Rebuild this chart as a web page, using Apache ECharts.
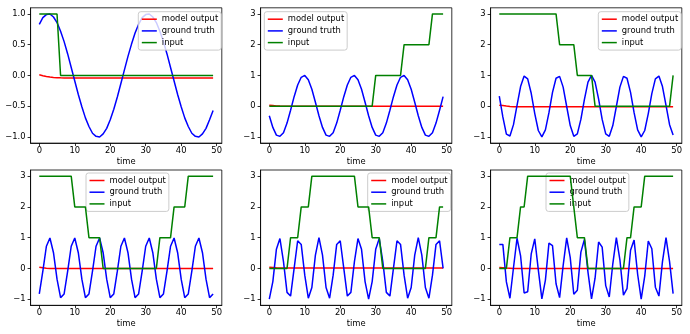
<!DOCTYPE html>
<html>
<head>
<meta charset="utf-8">
<script src="https://cdn.jsdelivr.net/npm/echarts@6/dist/echarts.min.js"></script>
<style>
html, body { margin: 0; padding: 0; background: #ffffff; }
#chart { width: 690px; height: 334px; }
</style>
</head>
<body>
<div id="chart"></div>
<script>
// Time steps shared by every panel
const steps = [0,1,2,3,4,5,6,7,8,9,10,11,12,13,14,15,16,17,18,19,20,21,22,23,24,25,26,27,28,29,30,31,32,33,34,35,36,37,38,39,40,41,42,43,44,45,46,47,48,49];

const seriesNames = ['model output', 'ground truth', 'input'];

// Panel 1
const output1 = [0.01,-0.005,-0.018,-0.027,-0.033,-0.037,-0.039,-0.04,-0.04,-0.04,-0.04,-0.04,-0.04,-0.04,-0.04,-0.04,-0.04,-0.04,-0.04,-0.04,-0.04,-0.04,-0.04,-0.04,-0.04,-0.04,-0.04,-0.04,-0.04,-0.04,-0.04,-0.04,-0.04,-0.04,-0.04,-0.04,-0.04,-0.04,-0.04,-0.04,-0.04,-0.04,-0.04,-0.04,-0.04,-0.04,-0.04,-0.04,-0.04,-0.04];
const truth1 = [0.83,0.94,0.99,1.00,0.95,0.86,0.72,0.55,0.35,0.13,-0.09,-0.31,-0.51,-0.69,-0.83,-0.94,-0.99,-1.00,-0.95,-0.86,-0.72,-0.55,-0.35,-0.13,0.09,0.31,0.51,0.69,0.83,0.94,0.99,1.00,0.95,0.86,0.72,0.55,0.35,0.13,-0.09,-0.31,-0.51,-0.69,-0.83,-0.94,-0.99,-1.00,-0.95,-0.86,-0.72,-0.57];
const input1 = [1,1,1,1,1,1,0,0,0,0,0,0,0,0,0,0,0,0,0,0,0,0,0,0,0,0,0,0,0,0,0,0,0,0,0,0,0,0,0,0,0,0,0,0,0,0,0,0,0,0];

// Panel 2
const output2 = [0.03,0.02,0.01,0.004,0,0,0,0,0,0,0,0,0,0,0,0,0,0,0,0,0,0,0,0,0,0,0,0,0,0,0,0,0,0,0,0,0,0,0,0,0,0,0,0,0,0,0,0,0,0];
const truth2 = [-0.31,-0.69,-0.94,-0.98,-0.86,-0.55,-0.13,0.31,0.69,0.94,1.00,0.86,0.55,0.13,-0.31,-0.69,-0.94,-0.98,-0.86,-0.55,-0.13,0.31,0.69,0.94,1.00,0.86,0.55,0.13,-0.31,-0.69,-0.94,-0.98,-0.86,-0.55,-0.13,0.31,0.69,0.94,1.00,0.86,0.55,0.13,-0.31,-0.69,-0.94,-0.98,-0.86,-0.55,-0.13,0.31];
const input2 = [0,0,0,0,0,0,0,0,0,0,0,0,0,0,0,0,0,0,0,0,0,0,0,0,0,0,0,0,0,0,1,1,1,1,1,1,1,1,2,2,2,2,2,2,2,2,3,3,3,3];

// Panel 3
const output3 = [0.03,0.02,0.005,-0.008,-0.015,-0.018,-0.02,-0.02,-0.02,-0.02,-0.02,-0.02,-0.02,-0.02,-0.02,-0.02,-0.02,-0.02,-0.02,-0.02,-0.02,-0.02,-0.02,-0.02,-0.02,-0.02,-0.02,-0.02,-0.02,-0.02,-0.02,-0.02,-0.02,-0.02,-0.02,-0.02,-0.02,-0.02,-0.02,-0.02,-0.02,-0.02,-0.02,-0.02,-0.02,-0.02,-0.02,-0.02,-0.02,-0.02];
const truth3 = [0.33,-0.35,-0.91,-0.97,-0.60,0.03,0.64,0.98,0.89,0.42,-0.24,-0.79,-1.00,-0.77,-0.21,0.45,0.91,0.97,0.62,-0.01,-0.63,-0.98,-0.90,-0.43,0.22,0.78,1.00,0.78,0.23,-0.43,-0.90,-0.98,-0.63,-0.01,0.62,0.97,0.91,0.45,-0.21,-0.77,-1.00,-0.79,-0.24,0.41,0.89,0.98,0.64,0.03,-0.60,-0.94];
const input3 = [3,3,3,3,3,3,3,3,3,3,3,3,3,3,3,3,3,2,2,2,2,2,1,1,1,1,1,0,0,0,0,0,0,0,0,0,0,0,0,0,0,0,0,0,0,0,0,0,0,1];

// Panel 4
const output4 = [0.04,0.02,0.005,-0.005,-0.005,-0.005,-0.005,-0.005,-0.005,-0.005,-0.005,-0.005,-0.005,-0.005,-0.005,-0.005,-0.005,-0.005,-0.005,-0.005,-0.005,-0.005,-0.005,-0.005,-0.005,-0.005,-0.005,-0.005,-0.005,-0.005,-0.005,-0.005,-0.005,-0.005,-0.005,-0.005,-0.005,-0.005,-0.005,-0.005,-0.005,-0.005,-0.005,-0.005,-0.005,-0.005,-0.005,-0.005,-0.005,-0.005];
const truth4 = [-0.83,-0.09,0.72,0.99,0.51,-0.35,-0.95,-0.83,-0.09,0.72,0.99,0.51,-0.35,-0.95,-0.83,-0.09,0.72,0.99,0.51,-0.35,-0.95,-0.83,-0.09,0.72,0.99,0.51,-0.35,-0.95,-0.83,-0.09,0.72,0.99,0.51,-0.35,-0.95,-0.83,-0.09,0.72,0.99,0.51,-0.35,-0.95,-0.83,-0.09,0.72,0.99,0.51,-0.35,-0.95,-0.83];
const input4 = [3,3,3,3,3,3,3,3,3,3,2,2,2,2,1,1,1,1,0,0,0,0,0,0,0,0,0,0,0,0,0,0,0,0,1,1,1,1,2,2,2,2,3,3,3,3,3,3,3,3];

// Panel 5
const output5 = [0.04,0.03,0.02,0.015,0.01,0.01,0.01,0.01,0.01,0.01,0.01,0.01,0.01,0.01,0.01,0.01,0.01,0.01,0.01,0.01,0.01,0.01,0.01,0.01,0.01,0.01,0.01,0.01,0.01,0.01,0.01,0.01,0.01,0.01,0.01,0.01,0.01,0.01,0.01,0.01,0.01,0.01,0.01,0.01,0.01,0.01,0.01,0.01,0.01,0.01];
const truth5 = [-1.00,-0.43,0.62,0.97,0.22,-0.78,-0.90,0.00,0.90,0.78,-0.22,-0.97,-0.62,0.43,1.00,0.43,-0.62,-0.97,-0.22,0.78,0.90,0.00,-0.90,-0.78,0.22,0.97,0.62,-0.43,-1.00,-0.43,0.62,0.97,0.22,-0.78,-0.90,0.00,0.90,0.78,-0.22,-0.97,-0.62,0.43,1.00,0.43,-0.62,-0.97,-0.22,0.78,0.90,0.00];
const input5 = [0,0,0,0,0,0,1,1,1,2,2,2,3,3,3,3,3,3,3,3,3,3,3,3,3,2,2,2,2,1,1,1,0,0,0,0,0,0,0,0,0,0,0,0,0,1,1,1,2,2];

// Panel 6
const output6 = [0.03,0.02,0.01,0.005,0,0,0,0,0,0,0,0,0,0,0,0,0,0,0,0,0,0,0,0,0,0,0,0,0,0,0,0,0,0,0,0,0,0,0,0,0,0,0,0,0,0,0,0,0,0];
const truth6 = [0.78,0.78,-0.44,-0.97,0.02,0.98,0.41,-0.80,-0.76,0.47,0.96,-0.05,-0.99,-0.38,0.82,0.74,-0.50,-0.95,0.09,0.99,0.35,-0.84,-0.71,0.53,0.94,-0.12,-0.99,-0.32,0.86,0.69,-0.56,-0.93,0.15,1.00,0.28,-0.87,-0.66,0.59,0.92,-0.19,-1.00,-0.25,0.89,0.64,-0.61,-0.90,0.22,1.00,0.22,-0.82];
const input6 = [0,0,0,1,1,1,2,2,3,3,3,3,3,3,3,3,3,3,3,3,3,2,1,1,1,0,0,0,0,0,0,0,0,0,0,0,1,1,2,2,2,3,3,3,3,3,3,3,3,3];

// Axis ticks
const xTicks = [0, 10, 20, 30, 40, 50];
const yTicksSmall = [-1, -0.5, 0, 0.5, 1];
const yTicksLarge = [-1, 0, 1, 2, 3];

const panels = [
  { out: output1, truth: truth1, inp: input1, yMin: -1.1, yMax: 1.1, yTicks: yTicksSmall, decimals: 1 },
  { out: output2, truth: truth2, inp: input2, yMin: -1.2, yMax: 3.2, yTicks: yTicksLarge, decimals: 0 },
  { out: output3, truth: truth3, inp: input3, yMin: -1.2, yMax: 3.2, yTicks: yTicksLarge, decimals: 0 },
  { out: output4, truth: truth4, inp: input4, yMin: -1.2, yMax: 3.2, yTicks: yTicksLarge, decimals: 0 },
  { out: output5, truth: truth5, inp: input5, yMin: -1.2, yMax: 3.2, yTicks: yTicksLarge, decimals: 0 },
  { out: output6, truth: truth6, inp: input6, yMin: -1.2, yMax: 3.2, yTicks: yTicksLarge, decimals: 0 }
];

// Layout: 2 rows x 3 columns of plot boxes
const colLefts = [30.6, 260.6, 490.6];
const plotWidth = 191.2;
const rowTops = [7.8, 170];
const plotHeight = 135.3;
const legendSpots = [[138.3, 11.7], [264.3, 11.7], [598.3, 11.7], [86, 173], [367.7, 173], [546, 173]];

const lineColors = ['#ff0000', '#0000ff', '#008000'];
const font = 'DejaVu Sans';
const fontSize = 8.4;

function tickText(v, decimals) {
  const s = Math.abs(v).toFixed(decimals);
  return (v < 0 ? '\u2212' : '') + s;
}

const grids = [], xAxes = [], yAxes = [], series = [], legends = [];
panels.forEach((p, i) => {
  const row = Math.floor(i / 3), col = i % 3;
  grids.push({
    left: colLefts[col], top: rowTops[row], width: plotWidth, height: plotHeight,
    show: true, borderColor: '#000', borderWidth: 0.8, backgroundColor: 'transparent'
  });
  xAxes.push({
    gridIndex: i, type: 'value', min: -2.45, max: 51.45,
    name: 'time', nameLocation: 'middle', nameGap: 15,
    nameTextStyle: { fontFamily: font, fontSize: fontSize, color: '#000' },
    axisLine: { show: true, onZero: false, lineStyle: { color: '#000', width: 0.8 } },
    axisTick: { show: true, length: 3, customValues: xTicks, lineStyle: { color: '#000', width: 0.8 } },
    axisLabel: { customValues: xTicks, fontFamily: font, fontSize: fontSize, color: '#000', margin: 4 },
    splitLine: { show: false }
  });
  yAxes.push({
    gridIndex: i, type: 'value', min: p.yMin, max: p.yMax,
    axisLine: { show: true, onZero: false, lineStyle: { color: '#000', width: 0.8 } },
    axisTick: { show: true, length: 3, customValues: p.yTicks, lineStyle: { color: '#000', width: 0.8 } },
    axisLabel: {
      customValues: p.yTicks, fontFamily: font, fontSize: fontSize, color: '#000', margin: 5,
      formatter: (v) => tickText(v, p.decimals)
    },
    splitLine: { show: false }
  });
  [p.out, p.truth, p.inp].forEach((vals, k) => {
    series.push({
      name: seriesNames[k], type: 'line', xAxisIndex: i, yAxisIndex: i,
      data: steps.map((t, j) => [t, vals[j]]),
      symbol: 'none', smooth: false, silent: true,
      color: lineColors[k],
      itemStyle: { color: lineColors[k] },
      lineStyle: { color: lineColors[k], width: 1.5 },
      z: 2 + k
    });
  });
  legends.push({
    data: seriesNames, orient: 'vertical',
    left: legendSpots[i][0], top: legendSpots[i][1],
    icon: 'rect', itemWidth: 15, itemHeight: 1.5, itemGap: 1.7,
    padding: [2.5, 3, 2.5, 3.5],
    backgroundColor: 'rgba(255,255,255,0.8)', borderColor: '#cccccc', borderWidth: 1, borderRadius: 2.5,
    selectedMode: false,
    textStyle: { fontFamily: font, fontSize: fontSize, lineHeight: 10, color: '#000' }
  });
});

const chart = echarts.init(document.getElementById('chart'), null, { renderer: 'canvas' });
chart.setOption({
  animation: false,
  backgroundColor: '#ffffff',
  grid: grids,
  xAxis: xAxes,
  yAxis: yAxes,
  legend: legends,
  series: series
});
</script>
</body>
</html>
